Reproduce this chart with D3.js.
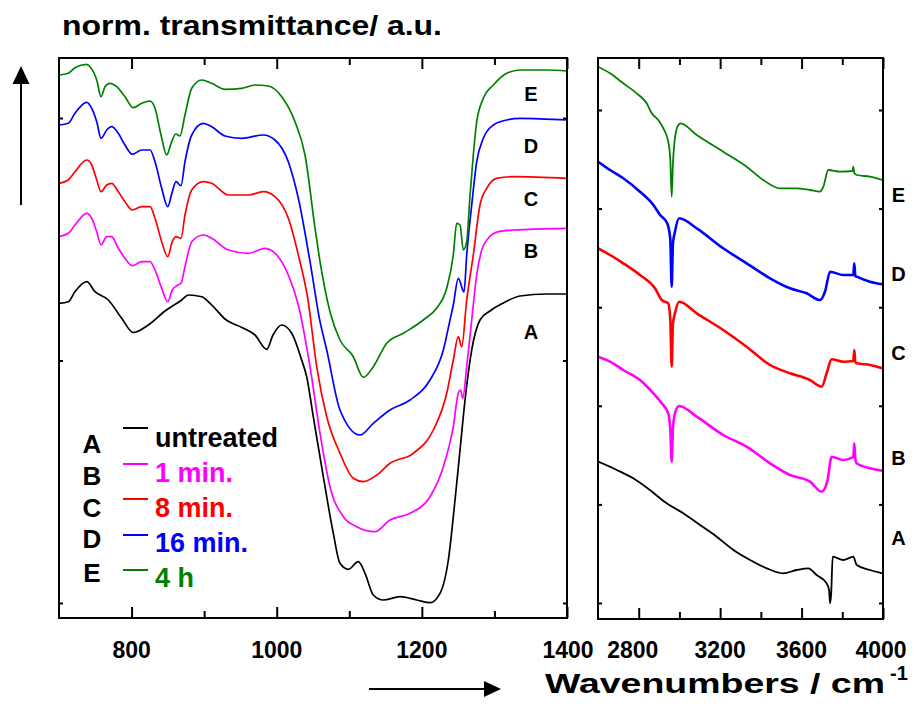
<!DOCTYPE html>
<html><head><meta charset="utf-8">
<script src="https://cdn.jsdelivr.net/npm/d3@7"></script>
<style>
body{margin:0;background:#fff;}
svg text{font-family:Arial,"Liberation Sans",sans-serif;font-weight:bold;}
</style></head><body>
<svg id="chart" width="915" height="706"></svg>
<script>
// ---------- data ----------
const seriesNames = ["A","B","C","D","E"];
const legendLabels = ["untreated","1 min.","8 min.","16 min.","4 h"];
const seriesColors = ["#000000","#ff00ff","#ff0000","#0000ff","#008000"];
const leftXTicksMajor = [800,1000,1200,1400];
const leftXTicksMinor = [900,1100,1300];
const rightXTicksMajor = [2800,3200,3600,4000];
const rightXTicksMinor = [3000,3400,3800];
const leftYTicks = [15,257.5,500];
const rightYTicks = [16,114.6,213.2,311.8,410.4,509];

// left panel (700-1400 cm-1): [wavenumber, norm. transmittance a.u.]
const leftA = [[700,314.7],[712.8,316.3],[722,326.3],[738.2,336.3],[749.6,326.3],[767.9,318],[786.4,299.7],[802.4,285.5],[823.1,293],[846.1,307],[869.1,318],[878.2,323],[896.6,321.3],[910.4,313],[928.7,299],[953.5,290],[970.1,283],[986.2,268.7],[994.9,283],[1006.9,293],[1020.7,284.7],[1034.4,258],[1041.3,241.3],[1050.4,201.3],[1064.2,141.3],[1078,84.7],[1087.2,54.7],[1098.7,48.7],[1112.4,56.3],[1121.7,44.7],[1133.1,23],[1146.9,18],[1169.9,21.3],[1192.9,18],[1211.2,15.3],[1225,24.7],[1236.5,58],[1245.7,118],[1252.6,168],[1259.5,218],[1268.7,268],[1280.1,298],[1293.9,307],[1312.3,315],[1335.3,322],[1372,324],[1400,324]];
const leftB = [[700,381.3],[712.8,384.7],[722,393],[738.2,404.7],[745.1,399.7],[752,386.3],[757.9,373],[765.7,381.3],[772.6,381.3],[781.7,369.7],[790.9,359.7],[801,352.3],[814,356.3],[825.4,356.3],[832.3,348],[841.5,329.7],[849.8,316.3],[856.1,328],[862.2,332.3],[868.1,334.7],[873.6,351.3],[882.9,376.3],[898.8,383],[910.4,379.7],[933.3,368],[960.9,364.7],[983.9,369.7],[1000,363],[1016,343],[1029.8,313],[1045.9,251.3],[1059.7,184.7],[1073.4,131.3],[1091.8,101.3],[1110.2,91.3],[1135.4,86.3],[1156.1,98],[1183.7,104.7],[1211.2,121.3],[1229.6,151.3],[1243.3,191.3],[1250.2,224.7],[1253.5,228],[1256.3,219.7],[1261.8,251.3],[1268.7,298],[1275.6,343],[1282.5,368],[1291.6,379.7],[1305.4,386.3],[1326,388],[1400,389.7]];
const leftC = [[700,434.7],[712.8,438],[722,446.3],[738.2,458],[745.1,453],[752,438],[757.9,426.3],[765.7,433],[772.6,434.7],[781.7,426.3],[790.9,416.3],[801,408],[814,411.3],[825.4,411.3],[832.3,399.7],[841.5,376.3],[849.8,361.3],[856.1,376.3],[861.2,381.3],[868.1,379.7],[873.6,403],[882.9,428],[898.8,436.3],[910.4,434.7],[933.3,423],[960.9,423],[981.5,426.3],[997.6,421.3],[1016,399.7],[1029.8,363],[1043.1,318],[1055.1,251.3],[1068.9,201.3],[1087.2,164.7],[1105.5,139.7],[1119.3,136.3],[1137.8,143],[1156.1,154.7],[1188.2,164.7],[1215.8,188],[1234.3,224.7],[1243.3,258],[1250.2,281.3],[1254.9,271.3],[1261.8,318],[1270.9,363],[1280.1,413],[1289.4,429.7],[1303.1,439.7],[1326,441.3],[1400,439.7]];
const leftD = [[700,493],[712.8,494.7],[722,504.7],[738.2,515.7],[745.1,509.7],[752,496.3],[757.9,479.7],[765.7,488],[772.6,491.3],[781.7,484.7],[790.9,473],[801,463.7],[814,468],[825.4,468],[832.3,456.3],[841.5,429.7],[849.8,411.3],[856.1,426.3],[861.2,436.3],[868.1,432.3],[873.6,456.3],[882.9,483],[898.8,494.7],[910.4,491.3],[928.7,482],[951.8,479.7],[981.5,483],[997.6,478],[1016,456.3],[1029.8,419.7],[1045.9,356.3],[1059.7,296.3],[1068.9,268],[1087.2,208],[1114.8,183],[1133.1,194.7],[1156.1,208],[1183.7,218],[1211.2,238],[1229.6,268],[1238.8,298],[1243.3,313],[1250.2,339.7],[1258.1,326],[1261.8,363],[1268.7,413],[1275.6,456.3],[1284.7,479.7],[1298.5,493],[1316.9,498],[1335.3,499.7],[1400,498]];
const leftE = [[700,543],[712.8,544.7],[722,550.3],[738.2,553.7],[742.7,551.3],[752,538],[757.9,521.3],[763.4,531.3],[770.3,534.7],[779.5,531.3],[790.9,521.3],[802.4,510.3],[814,514.7],[825.4,517],[832.3,509.7],[840.6,483],[848.4,463],[855.3,476.3],[860.8,484],[866.7,482],[873.6,503],[882.9,529.7],[896.6,538],[910.4,534.7],[928.7,528.7],[951.8,529.7],[970.1,533],[988.4,532],[1006.9,521.3],[1025.2,496.3],[1039,463],[1052.8,390],[1059.7,356.3],[1073.4,306.3],[1087.2,278],[1105.5,261.3],[1119.3,240.7],[1133.1,251.3],[1151.6,274.7],[1174.5,284.7],[1202,298],[1220.5,310],[1234.3,330],[1243.3,363],[1248,394.7],[1252.6,393],[1257.1,368],[1261.8,376.3],[1266.4,423],[1270.9,463],[1275.6,496.3],[1284.7,519.7],[1298.5,533],[1316.9,544.7],[1335.3,548],[1372,548],[1400,547]];

// right panel (2600-4000 cm-1)
const rightA = [[2601,157.3],[2692,149],[2773,140.7],[2855,129],[2937,115.7],[3019,105.7],[3101,94],[3183,82.3],[3265,69],[3347,59],[3429,50.7],[3510,45.7],[3576,49],[3633,50.7],[3674,44],[3723,35.7],[3735,29],[3740,15.7],[3745,24],[3753,62.3],[3805,59],[3854,62.3],[3871,54],[3936,49],[3998,45.7]];
const rightB = [[2601,262.3],[2659,257.3],[2724,249],[2806,239],[2872,225.7],[2913,215.7],[2945,205.7],[2955,190],[2962,157.3],[2968,190],[2978,205.7],[2999,213],[3085,202.3],[3215,184],[3330,172.3],[3445,155.7],[3543,144],[3641,137.3],[3699,127.3],[3726,137.3],[3748,162.3],[3805,159],[3854,162],[3859,175.7],[3864,160],[3871,155.7],[3936,150.7],[3998,148.3]];
const rightC = [[2601,370.7],[2659,364],[2724,355.7],[2806,344],[2880,330.7],[2913,319],[2945,315.7],[2955,300],[2962,252.3],[2968,295],[2978,305.7],[2999,317.3],[3085,305.7],[3215,289],[3330,272.3],[3445,254],[3543,245.7],[3641,239],[3699,232.3],[3723,245.7],[3748,259.7],[3805,257.3],[3854,258],[3859,269],[3864,257],[3871,255.7],[3936,254],[3998,250.7]];
const rightD = [[2601,457.3],[2659,449],[2724,440.7],[2806,427.3],[2872,414],[2905,404],[2940,395.7],[2955,380],[2962,332.3],[2968,375],[2978,387.3],[2999,400.7],[3085,390.7],[3215,370.7],[3330,355.7],[3445,340.7],[3543,330.7],[3625,325.7],[3690,319],[3715,327.3],[3740,347.3],[3805,344],[3854,344],[3859,355.7],[3864,343],[3871,342.3],[3936,337.3],[3998,334.7]];
const rightE = [[2601,552.3],[2659,545.7],[2724,535.7],[2790,525.7],[2839,515.7],[2864,505.7],[2896,499],[2921,490.7],[2945,477.3],[2955,460],[2962,422.3],[2968,455],[2973,470.7],[2990,492.3],[3006,495.7],[3085,484],[3215,467.3],[3330,452.3],[3412,439],[3494,430.7],[3576,430.7],[3641,429],[3690,427.3],[3707,432.3],[3731,449],[3789,447.3],[3850,448],[3854,452.3],[3859,446],[3871,444],[3936,442.3],[3998,439]];

const leftSeries = [leftA,leftB,leftC,leftD,leftE];
const rightSeries = [rightA,rightB,rightC,rightD,rightE];

// ---------- layout ----------
const svg = d3.select("#chart");
const L = {x0:59,x1:567,y0:58,y1:618};
const R = {x0:598,x1:883,y0:58,y1:619};

const xL = d3.scaleLinear().domain([700,1400]).range([L.x0,L.x1]);
const yL = d3.scaleLinear().domain([0,560]).range([L.y1,L.y0]);
const xR = d3.scaleLinear().domain([2600,4000]).range([R.x0,R.x1]);
const yR = d3.scaleLinear().domain([0,561]).range([R.y1,R.y0]);

const defs = svg.append("defs");
defs.append("clipPath").attr("id","clipL").append("rect").attr("x",L.x0).attr("y",L.y0).attr("width",L.x1-L.x0).attr("height",L.y1-L.y0);
defs.append("clipPath").attr("id","clipR").append("rect").attr("x",R.x0).attr("y",R.y0).attr("width",R.x1-R.x0).attr("height",R.y1-R.y0);

// curves
const lineL = d3.line().x(d=>xL(d[0])).y(d=>yL(d[1])).curve(d3.curveMonotoneX);
const lineR = d3.line().x(d=>xR(d[0])).y(d=>yR(d[1])).curve(d3.curveMonotoneX);
const gL = svg.append("g").attr("clip-path","url(#clipL)");
leftSeries.forEach((s,i)=>{
  gL.append("path").attr("d",lineL(s)).attr("fill","none").attr("stroke",seriesColors[i]).attr("stroke-width",1.7).attr("stroke-linejoin","round");
});
const gR = svg.append("g").attr("clip-path","url(#clipR)");
rightSeries.forEach((s,i)=>{
  gR.append("path").attr("d",lineR(s)).attr("fill","none").attr("stroke",seriesColors[i]).attr("stroke-width",i===0||i===4?1.8:2.6).attr("stroke-linejoin","round");
});

// axes (inside ticks)
function ticks(g, axis){ g.call(axis); g.select(".domain").remove(); g.selectAll(".tick line").attr("stroke","#000").attr("stroke-width",2); }
ticks(svg.append("g").attr("transform",`translate(0,${L.y1})`), d3.axisBottom(xL).tickValues(leftXTicksMajor).tickSize(-11).tickFormat(""));
ticks(svg.append("g").attr("transform",`translate(0,${L.y1})`), d3.axisBottom(xL).tickValues(leftXTicksMinor).tickSize(-7).tickFormat(""));
ticks(svg.append("g").attr("transform",`translate(0,${L.y0})`), d3.axisTop(xL).tickValues(leftXTicksMajor).tickSize(-11).tickFormat(""));
ticks(svg.append("g").attr("transform",`translate(0,${L.y0})`), d3.axisTop(xL).tickValues(leftXTicksMinor).tickSize(-7).tickFormat(""));
ticks(svg.append("g").attr("transform",`translate(${L.x0},0)`), d3.axisLeft(yL).tickValues(leftYTicks).tickSize(-4).tickFormat(""));
ticks(svg.append("g").attr("transform",`translate(${L.x1},0)`), d3.axisRight(yL).tickValues(leftYTicks).tickSize(-4).tickFormat(""));

ticks(svg.append("g").attr("transform",`translate(0,${R.y1})`), d3.axisBottom(xR).tickValues(rightXTicksMajor).tickSize(-11).tickFormat(""));
ticks(svg.append("g").attr("transform",`translate(0,${R.y1})`), d3.axisBottom(xR).tickValues(rightXTicksMinor).tickSize(-7).tickFormat(""));
ticks(svg.append("g").attr("transform",`translate(0,${R.y0})`), d3.axisTop(xR).tickValues(rightXTicksMajor).tickSize(-11).tickFormat(""));
ticks(svg.append("g").attr("transform",`translate(0,${R.y0})`), d3.axisTop(xR).tickValues(rightXTicksMinor).tickSize(-7).tickFormat(""));
ticks(svg.append("g").attr("transform",`translate(${R.x0},0)`), d3.axisLeft(yR).tickValues(rightYTicks).tickSize(-4).tickFormat(""));
ticks(svg.append("g").attr("transform",`translate(${R.x1},0)`), d3.axisRight(yR).tickValues(rightYTicks).tickSize(-4).tickFormat(""));

// frames
[L,R].forEach(p=>{
  svg.append("rect").attr("x",p.x0).attr("y",p.y0).attr("width",p.x1-p.x0).attr("height",p.y1-p.y0)
    .attr("fill","none").attr("stroke","#000").attr("stroke-width",2);
});

// tick labels
const lblG = svg.append("g").attr("font-size",23).attr("text-anchor","middle");
leftXTicksMajor.forEach(v=>{ lblG.append("text").attr("x",xL(v)+(v===1400?1:0)).attr("y",658).text(v); });
rightXTicksMajor.forEach(v=>{ lblG.append("text").attr("x",xR(v)+(v===2800?-6:(v===4000?-2:0))).attr("y",658).text(v); });

// title & axis label
svg.append("text").attr("x",62).attr("y",35).attr("font-size",27).attr("textLength",380).attr("lengthAdjust","spacingAndGlyphs").text("norm. transmittance/ a.u.");
svg.append("text").attr("x",545).attr("y",693).attr("font-size",28).attr("textLength",340).attr("lengthAdjust","spacingAndGlyphs").text("Wavenumbers / cm");
svg.append("text").attr("x",890).attr("y",680).attr("font-size",20).text("-1");

// arrows
svg.append("line").attr("x1",21).attr("y1",205).attr("x2",21).attr("y2",80).attr("stroke","#000").attr("stroke-width",2);
svg.append("path").attr("d","M21,66 L29.5,84 L12.5,84 Z").attr("fill","#000");
svg.append("line").attr("x1",369).attr("y1",689).attr("x2",486).attr("y2",689).attr("stroke","#000").attr("stroke-width",2);
svg.append("path").attr("d","M501,689 L484,681 L484,697 Z").attr("fill","#000");

// series letters in panels
const leftLetterY = [339,258,206,153,101];
const rightLetterY = [545,465,360,281,202];
seriesNames.forEach((n,i)=>{
  svg.append("text").attr("x",531).attr("y",leftLetterY[i]).attr("font-size",20).attr("text-anchor","middle").text(n);
  svg.append("text").attr("x",898.5).attr("y",rightLetterY[i]).attr("font-size",20).attr("text-anchor","middle").text(n);
});

// legend
const legLetterY = [453,485,517,548,582];
const legTextY = [447,482,517,552,587];
const legLineY = [428,464,499,535,570];
seriesNames.forEach((n,i)=>{
  svg.append("text").attr("x",92).attr("y",legLetterY[i]).attr("font-size",26).attr("text-anchor","middle").text(n);
  svg.append("line").attr("x1",123).attr("x2",148).attr("y1",legLineY[i]).attr("y2",legLineY[i]).attr("stroke",seriesColors[i]).attr("stroke-width",2);
  svg.append("text").attr("x",155).attr("y",legTextY[i]).attr("font-size",27).attr("fill",seriesColors[i]).text(legendLabels[i]);
});
</script>
</body></html>
